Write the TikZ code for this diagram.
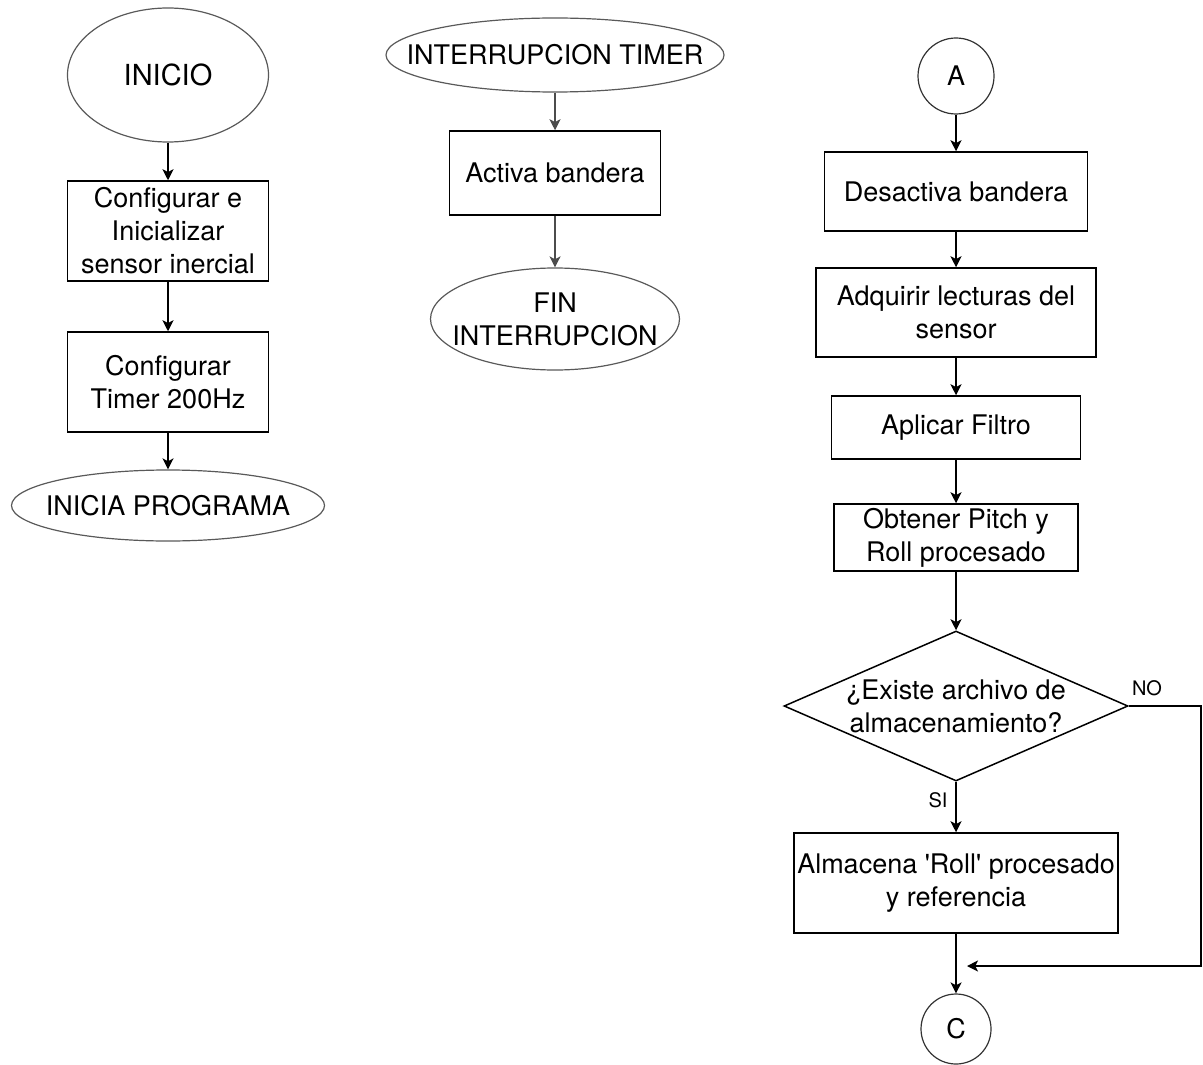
\documentclass[tikz,border=0pt]{standalone}
\usepackage{fontspec}
\setmainfont{TeX Gyre Heros}[Ligatures=TeXOff]
\usetikzlibrary{arrows.meta,shapes.geometric}

\begin{document}
\begin{tikzpicture}[
  x=0.5pt,y=-0.5pt,
  txt/.style={font=\fontsize{13.5}{16.5}\selectfont},
  box/.style={draw,line width=0.75pt,align=center,inner sep=0pt,txt},
  term/.style={draw=black!65,line width=0.6pt,ellipse,inner sep=0pt,
    label={[txt,align=center]center:#1}},
  conn/.style={draw=black!80,line width=0.6pt,circle,inner sep=0pt,txt},
  tag/.style={font=\fontsize{10}{12}\selectfont},
  arr/.style={-{Stealth[length=5.5pt,width=5.5pt,inset=1.4pt]},line width=0.75pt},
  garr/.style={arr,draw=black!70}
]
\useasboundingbox (0,0) rectangle (1203,1064);
% programa principal
\node[term={\fontsize{14.5}{17}\selectfont INICIO},minimum width=100.5pt,minimum height=67pt] (inicio) at (168,75) {};
\node[box,minimum width=100.5pt,minimum height=50pt] (config) at (168,231) {Configurar e\\Inicializar\\sensor inercial};
\node[box,minimum width=100.5pt,minimum height=50pt] (timer) at (168,382) {Configurar\\Timer 200Hz};
\node[term={INICIA PROGRAMA},minimum width=156.5pt,minimum height=35.5pt] (programa) at (168,505.5) {};
% rutina de interrupcion
\node[term={INTERRUPCION TIMER},minimum width=169pt,minimum height=37pt] (irq) at (555,55) {};
\node[box,minimum width=105.5pt,minimum height=42pt] (activa) at (555,173) {Activa bandera};
\node[term={FIN\\INTERRUPCION},minimum width=124.5pt,minimum height=51pt] (finirq) at (555,319) {};
% lazo de adquisicion
\node[conn,minimum size=38pt] (A) at (956,76) {A};
\node[box,minimum width=131.5pt,minimum height=39.5pt] (desactiva) at (956,191.5) {Desactiva bandera};
\node[box,minimum width=140pt,minimum height=44.5pt] (lecturas) at (956,312.5) {Adquirir lecturas del\\sensor};
\node[box,minimum width=124.5pt,minimum height=31.5pt] (filtro) at (956,427.5) {Aplicar Filtro};
\node[box,minimum width=122pt,minimum height=33.5pt] (angulos) at (956,537.5) {Obtener Pitch y\\Roll procesado};
\node[draw,line width=0.75pt,diamond,minimum width=172pt,minimum height=75pt,inner sep=0pt,
  label={[txt,align=center]center:¿Existe archivo de\\almacenamiento?}] (archivo) at (956,706) {};
\node[box,minimum width=162pt,minimum height=50pt] (almacena) at (956,883) {Almacena 'Roll' procesado\\y referencia};
\node[conn,minimum size=35pt] (C) at (956,1029) {C};
\coordinate (noesq) at (1201,706);
\coordinate (nofin) at (967,966);
\node[tag] (no) at (1147,688) {NO};
\node[tag] (si) at (938,800) {SI};

\draw[arr] (inicio)--(config);
\draw[arr] (config)--(timer);
\draw[arr] (timer)--(programa);
\draw[garr] (irq)--(activa);
\draw[garr] (activa)--(finirq);
\draw[arr] (A)--(desactiva);
\draw[arr] (desactiva)--(lecturas);
\draw[arr] (lecturas)--(filtro);
\draw[arr] (filtro)--(angulos);
\draw[arr] (angulos)--(archivo);
\draw[arr] (archivo)--(almacena);
\draw[arr] (almacena)--(C);
\draw[arr] (archivo.east)--(noesq)|-(nofin);
\end{tikzpicture}
\end{document}
